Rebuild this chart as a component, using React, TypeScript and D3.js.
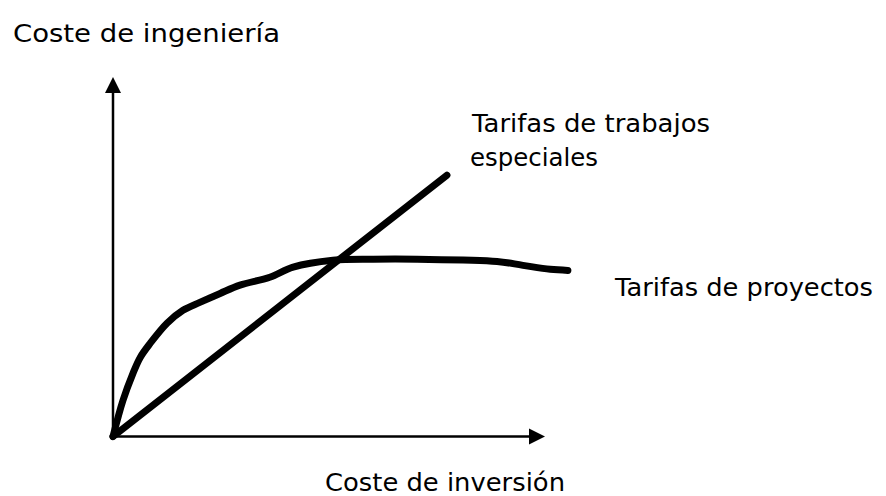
import React, { useEffect, useRef } from "react";
import * as d3 from "d3";

// curve of "Tarifas de proyectos" (investment %, engineering %)
const proyectosX = [0, 2.3, 4.6, 6.3, 8.6, 12.5, 16.2, 20.1, 24.8, 29.4, 36.3, 41.7, 50.9, 60.2, 70.4, 88.9, 94.9, 101.2, 105.3];
const proyectosY = [0, 10, 17.5, 22, 25.9, 31.5, 35.1, 37.3, 39.8, 42.1, 44.3, 47.1, 49, 49.3, 49.3, 48.7, 47.6, 46.5, 46.2];

// straight line of "Tarifas de trabajos especiales"
const especialesX = [0, 77.3];
const especialesY = [0, 72.7];

const labels = {
  yAxis: "Coste de ingeniería",
  xAxis: "Coste de inversión",
  especiales: ["Tarifas de trabajos", "especiales"],
  proyectos: "Tarifas de proyectos",
};

const W = 886;
const H = 496;

const App = () => {
  const ref = useRef<SVGSVGElement>(null);

  useEffect(() => {
    const svg = d3.select(ref.current);
    svg.selectAll("*").remove();

    const x = d3.scaleLinear().domain([0, 100]).range([113, 545]);
    const y = d3.scaleLinear().domain([0, 100]).range([436.5, 77]);

    const font = "'DejaVu Sans', Verdana, sans-serif";

    // axes
    svg.append("line")
      .attr("x1", x(0)).attr("y1", y(0))
      .attr("x2", x(0)).attr("y2", y(100) + 14)
      .attr("stroke", "#000").attr("stroke-width", 2.5);
    svg.append("line")
      .attr("x1", x(0)).attr("y1", y(0))
      .attr("x2", x(100) - 14).attr("y2", y(0))
      .attr("stroke", "#000").attr("stroke-width", 2.5);

    // arrow heads
    const ax = x(0), ay = y(100);
    svg.append("path")
      .attr("d", `M${ax},${ay} L${ax - 8},${ay + 16} L${ax + 8},${ay + 16} Z`)
      .attr("fill", "#000");
    const bx = x(100), by = y(0);
    svg.append("path")
      .attr("d", `M${bx},${by} L${bx - 16},${by - 8} L${bx - 16},${by + 8} Z`)
      .attr("fill", "#000");

    const line = d3.line<number>()
      .x((_, i) => x(proyectosX[i]))
      .y((d) => y(d))
      .curve(d3.curveCatmullRom);

    svg.append("path")
      .attr("d", line(proyectosY))
      .attr("fill", "none")
      .attr("stroke", "#000")
      .attr("stroke-width", 7)
      .attr("stroke-linecap", "round")
      .attr("stroke-linejoin", "round");

    svg.append("line")
      .attr("x1", x(especialesX[0])).attr("y1", y(especialesY[0]))
      .attr("x2", x(especialesX[1])).attr("y2", y(especialesY[1]))
      .attr("stroke", "#000")
      .attr("stroke-width", 7)
      .attr("stroke-linecap", "round");

    const addText = (t: string, tx: number, ty: number, len: number) => {
      svg.append("text")
        .attr("x", tx).attr("y", ty)
        .attr("font-family", font)
        .attr("font-size", 24)
        .attr("fill", "#000")
        .attr("textLength", len)
        .attr("lengthAdjust", "spacingAndGlyphs")
        .text(t);
    };

    addText(labels.yAxis, 13, 42, 267);
    addText(labels.xAxis, 325, 491, 240);
    addText(labels.especiales[0], 472, 132, 238);
    addText(labels.especiales[1], 470, 166, 128);
    addText(labels.proyectos, 615, 296, 258);
  }, []);

  return (
    <svg
      ref={ref}
      width={W}
      height={H}
      style={{ position: "absolute", left: 0, top: 0, background: "#fff" }}
    />
  );
};

export default App;
